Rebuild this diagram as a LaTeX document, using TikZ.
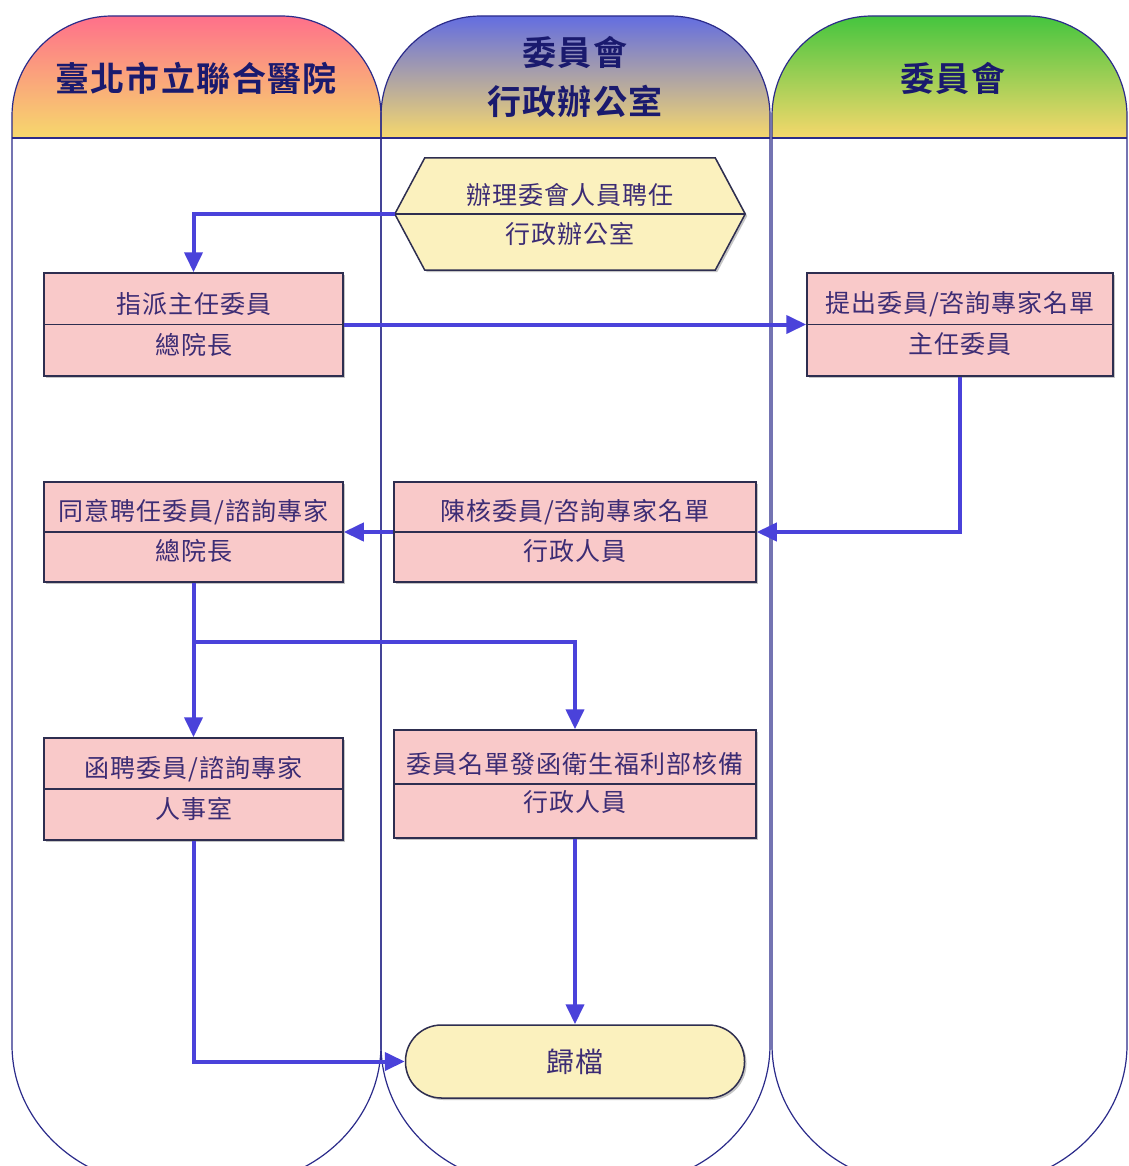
\documentclass[tikz,border=0pt]{standalone}
\usepackage{fontspec}
\newfontfamily\cjk{Noto Sans CJK TC}
\newfontfamily\cjkb{Noto Sans CJK TC Bold}
\usetikzlibrary{arrows.meta,calc,shadows}
\definecolor{lanec}{HTML}{2B2B8A}
\definecolor{hdtxt}{HTML}{1A1A6E}
\definecolor{txtc}{HTML}{3C2C74}
\definecolor{pinkbox}{HTML}{F9C9C9}
\definecolor{yelbox}{HTML}{FBF1BE}
\definecolor{boxline}{HTML}{2E2E50}
\definecolor{arrc}{HTML}{4A42DA}
\definecolor{h1top}{HTML}{FF6B8C}
\definecolor{h2top}{HTML}{5C68E6}
\definecolor{h3top}{HTML}{3CC43C}
\definecolor{hbot}{HTML}{F6D86C}
\newcommand\LaneShape[2]{(#1,116) .. controls (#1,61) and ([xshift=45pt]#1,16) .. ([xshift=100pt]#1,16) -- ([xshift=-100pt]#2,16) .. controls ([xshift=-45pt]#2,16) and (#2,61) .. (#2,116) -- (#2,1045) .. controls (#2,1122) and ([xshift=-67.5pt]#2,1185) .. ([xshift=-150pt]#2,1185) -- ([xshift=150pt]#1,1185) .. controls ([xshift=67.5pt]#1,1185) and (#1,1122) .. (#1,1045) -- cycle}
\tikzset{
  lane/.style={draw=lanec, line width=1.2pt},
  hdr/.style={font=\cjkb\addfontfeature{LetterSpace=4}\fontsize{34}{40}\selectfont, text=hdtxt, inner sep=0pt},
  txt/.style={font=\cjk\addfontfeature{LetterSpace=4}\fontsize{25}{28}\selectfont, text=txtc, inner sep=0pt},
  boxshadow/.style={drop shadow={shadow xshift=2pt,shadow yshift=-2pt,fill=black!45,opacity=0.5}},
  pbox/.style={draw=boxline, line width=1.5pt, fill=pinkbox, rectangle, inner sep=0pt, boxshadow},
  divl/.style={draw=boxline, line width=1.8pt},
  arr/.style={draw=arrc, line width=4pt, -{Triangle[length=20pt,width=18pt]}},
}
\begin{document}
\begin{tikzpicture}[x=1pt,y=-1pt]
\useasboundingbox[fill=white] (0,0) rectangle (1128,1166);
% lanes
\begin{scope}\clip \LaneShape{12}{381};
  \shade[top color=h1top, bottom color=hbot] (0,10) rectangle (400,138);
\end{scope}
\begin{scope}\clip \LaneShape{381}{770};
  \shade[top color=h2top, bottom color=hbot] (370,10) rectangle (790,138);
\end{scope}
\begin{scope}\clip \LaneShape{772}{1127};
  \shade[top color=h3top, bottom color=hbot] (760,10) rectangle (1140,138);
\end{scope}
\draw[lane] \LaneShape{12}{381};
\draw[lane] \LaneShape{381}{770};
\draw[lane] \LaneShape{772}{1127};
\draw[lane] (12,138) -- (381,138);
\draw[lane] (381,138) -- (770,138);
\draw[lane] (772,138) -- (1127,138);
% header texts
\node[hdr] (t1) at (196,78) {臺北市立聯合醫院};
\node[hdr] (t2a) at (575,52) {委員會};
\node[hdr] (t2b) at (575,101) {行政辦公室};
\node[hdr] (t3) at (953,78) {委員會};
% hexagon
\node[minimum width=350pt, minimum height=112pt, inner sep=0pt] (h) at (570,214) {};
\path[draw=boxline, line width=1.5pt, fill=yelbox, boxshadow]
  (h.west) -- ([xshift=30pt]h.north west) -- ([xshift=-30pt]h.north east) -- (h.east)
  -- ([xshift=-30pt]h.south east) -- ([xshift=30pt]h.south west) -- cycle;
\draw[divl] (h.west) -- (h.east);
\node[txt] (h1) at ($(h.center)+(0,-19)$) {辦理委會人員聘任};
\node[txt] (h2) at ($(h.center)+(0,20)$) {行政辦公室};
% boxes
\node[pbox, minimum width=299pt, minimum height=103pt] (A) at (193.5,324.5) {};
\node[pbox, minimum width=306pt, minimum height=103pt] (B) at (960,324.5) {};
\node[pbox, minimum width=299pt, minimum height=100pt] (C) at (193.5,532) {};
\node[pbox, minimum width=362pt, minimum height=100pt] (D) at (575,532) {};
\node[pbox, minimum width=299pt, minimum height=102pt] (E) at (193.5,789) {};
\node[pbox, minimum width=362pt, minimum height=108pt] (F) at (575,784) {};
\foreach \b in {A,B,C,D,E,F}{\draw[divl] (\b.west) -- (\b.east);}
\node[txt] (A1) at ($(A.center)+(0,-20)$) {指派主任委員};
\node[txt] (A2) at ($(A.center)+(0,20)$) {總院長};
\node[txt] (B1) at ($(B.center)+(0,-20)$) {提出委員/咨詢專家名單};
\node[txt] (B2) at ($(B.center)+(0,20)$) {主任委員};
\node[txt] (C1) at ($(C.center)+(0,-20)$) {同意聘任委員/諮詢專家};
\node[txt] (C2) at ($(C.center)+(0,19)$) {總院長};
\node[txt] (D1) at ($(D.center)+(0,-20)$) {陳核委員/咨詢專家名單};
\node[txt] (D2) at ($(D.center)+(0,19)$) {行政人員};
\node[txt] (E1) at ($(E.center)+(0,-20)$) {函聘委員/諮詢專家};
\node[txt] (E2) at ($(E.center)+(0,20)$) {人事室};
\node[txt] (F1) at ($(F.center)+(0,-20)$) {委員名單發函衛生福利部核備};
\node[txt] (F2) at ($(F.center)+(0,18)$) {行政人員};
% terminal
\node[draw=boxline, line width=1.5pt, fill=yelbox, rounded corners=36pt, boxshadow,
      minimum width=339pt, minimum height=73pt, inner sep=0pt] (T) at (575,1061.5) {};
\node[txt, font=\cjk\addfontfeature{LetterSpace=4}\fontsize{28}{30}\selectfont] (T1) at (T.center) {歸檔};
% connectors
\draw[arr] (h.west) -| (A.north);
\draw[arr] (A.east) -- (B.west);
\draw[arr] (B.south) |- (D.east);
\draw[arr] (D.west) -- (C.east);
\draw[arr] (C.south) -- (E.north);
\coordinate (j) at (193.5,642);
\draw[arr] (j) -| (F.north);
\draw[arr] (F.south) -- (T.north);
\draw[arr] (E.south) |- (T.west);
\end{tikzpicture}
\end{document}
